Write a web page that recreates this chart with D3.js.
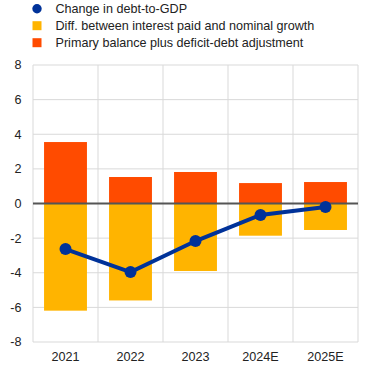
<!DOCTYPE html>
<html>
<head>
<meta charset="utf-8">
<script src="https://cdn.jsdelivr.net/npm/d3@7"></script>
<style>
  body { margin: 0; background: #fff; }
  text { font-family: Arial, "Liberation Sans", sans-serif; fill: #222; }
</style>
</head>
<body>
<div id="chart"></div>
<script>
const years = ["2021", "2022", "2023", "2024E", "2025E"];
const primaryBalance = [3.55, 1.53, 1.82, 1.18, 1.24];
const interestGrowth = [-6.19, -5.6, -3.9, -1.86, -1.53];
const debtChange = [-2.63, -3.96, -2.17, -0.66, -0.2];
const yTicks = [-8, -6, -4, -2, 0, 2, 4, 6, 8];

const legendItems = [
  { label: "Change in debt-to-GDP", color: "#003299", type: "circle" },
  { label: "Diff. between interest paid and nominal growth", color: "#FFB400", type: "rect" },
  { label: "Primary balance plus deficit-debt adjustment", color: "#FF4B00", type: "rect" }
];

const size = { width: 371, height: 373 };
const margin = { top: 65, right: 13, bottom: 31, left: 33 };

const svg = d3.select("#chart")
  .append("svg")
  .attr("width", size.width)
  .attr("height", size.height);

const x = d3.scaleBand()
  .domain(years)
  .range([margin.left, size.width - margin.right])
  .paddingInner(0.34)
  .paddingOuter(0.17);

const y = d3.scaleLinear()
  .domain([-8, 8])
  .range([size.height - margin.bottom, margin.top]);

// grid
const step = x.step();
const bounds = d3.range(years.length + 1).map(i => margin.left + i * step);
svg.append("g")
  .selectAll("line")
  .data(bounds)
  .enter().append("line")
    .attr("x1", d => d).attr("x2", d => d)
    .attr("y1", y(8)).attr("y2", y(-8))
    .attr("stroke", "#d9d9d9").attr("stroke-width", 1);

svg.append("g")
  .selectAll("line")
  .data(yTicks)
  .enter().append("line")
    .attr("x1", margin.left).attr("x2", size.width - margin.right)
    .attr("y1", d => y(d)).attr("y2", d => y(d))
    .attr("stroke", "#d9d9d9").attr("stroke-width", 1);

// bars
svg.append("g")
  .selectAll("rect")
  .data(years)
  .enter().append("rect")
    .attr("x", d => x(d))
    .attr("width", x.bandwidth())
    .attr("y", y(0))
    .attr("height", (d, i) => y(interestGrowth[i]) - y(0))
    .attr("fill", "#FFB400");

svg.append("g")
  .selectAll("rect")
  .data(years)
  .enter().append("rect")
    .attr("x", d => x(d))
    .attr("width", x.bandwidth())
    .attr("y", (d, i) => y(primaryBalance[i]))
    .attr("height", (d, i) => y(0) - y(primaryBalance[i]))
    .attr("fill", "#FF4B00");

// zero line
svg.append("line")
  .attr("x1", margin.left).attr("x2", size.width - margin.right)
  .attr("y1", y(0)).attr("y2", y(0))
  .attr("stroke", "#555").attr("stroke-width", 2);

// line
const line = d3.line()
  .x((d, i) => x(years[i]) + x.bandwidth() / 2)
  .y(d => y(d));

svg.append("path")
  .datum(debtChange)
  .attr("d", line)
  .attr("fill", "none")
  .attr("stroke", "#003299")
  .attr("stroke-width", 4);

svg.append("g")
  .selectAll("circle")
  .data(debtChange)
  .enter().append("circle")
    .attr("cx", (d, i) => x(years[i]) + x.bandwidth() / 2)
    .attr("cy", d => y(d))
    .attr("r", 6)
    .attr("fill", "#003299");

// axis labels
svg.append("g")
  .selectAll("text")
  .data(yTicks)
  .enter().append("text")
    .attr("x", 21.5)
    .attr("y", d => y(d))
    .attr("dy", "0.35em")
    .attr("text-anchor", "end")
    .attr("font-size", 12.6)
    .text(d => d);

svg.append("g")
  .selectAll("text")
  .data(years)
  .enter().append("text")
    .attr("x", d => x(d) + x.bandwidth() / 2)
    .attr("y", y(-8) + 19)
    .attr("text-anchor", "middle")
    .attr("font-size", 12.6)
    .text(d => d);

// legend
const legend = svg.append("g");
legendItems.forEach((item, i) => {
  const cy = 8.7 + i * 17;
  if (item.type === "circle") {
    legend.append("circle").attr("cx", 37).attr("cy", cy).attr("r", 4.7).attr("fill", item.color);
  } else {
    legend.append("rect").attr("x", 32.5).attr("y", cy - 4.5).attr("width", 9).attr("height", 9).attr("fill", item.color);
  }
  legend.append("text")
    .attr("x", 55.5)
    .attr("y", cy)
    .attr("dy", "0.35em")
    .attr("font-size", 12.6)
    .text(item.label);
});
</script>
</body>
</html>
